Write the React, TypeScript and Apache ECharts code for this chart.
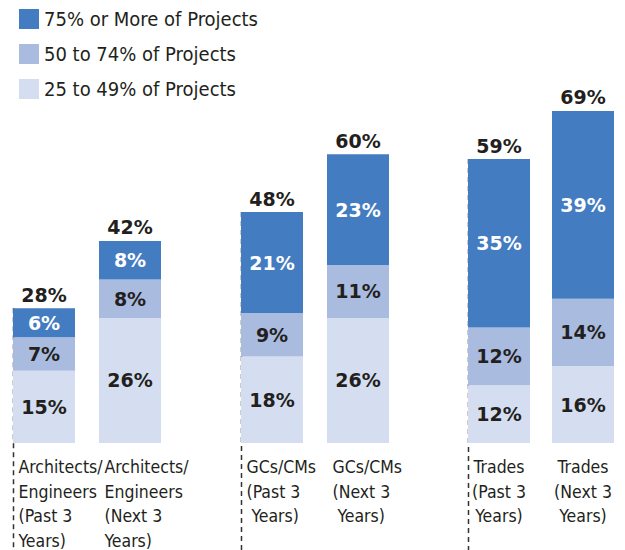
import React, { useEffect, useRef } from "react";
import * as echarts from "echarts";

const categories = [
  "Architects/\nEngineers\n(Past 3\nYears)",
  "Architects/\nEngineers\n(Next 3\nYears)",
  "GCs/CMs\n(Past 3\n Years)",
  "GCs/CMs\n(Next 3\n Years)",
  "Trades\n(Past 3\nYears)",
  "Trades\n(Next 3\nYears)",
];
const seriesNames = ["25 to 49% of Projects", "50 to 74% of Projects", "75% or More of Projects"];
const pct25to49 = [15, 26, 18, 26, 12, 16];
const pct50to74 = [7, 8, 9, 11, 12, 14];
const pct75plus = [6, 8, 21, 23, 35, 39];
const totals = [28, 42, 48, 60, 59, 69];

const COLORS = ["#d5def0", "#aabbe0", "#447cc1"];
const TEXT = "#231f20";
const NARROW = "'DejaVu Sans Condensed', 'Liberation Sans Narrow', sans-serif";
const BOLD = "'DejaVu Sans', sans-serif";

export default function App() {
  const ref = useRef<HTMLDivElement>(null);
  useEffect(() => {
    if (!ref.current) return;
    const chart = echarts.init(ref.current, null, { renderer: "svg" });
    const groups = [
      { left: 1, width: 172, align: "l" },
      { left: 229, width: 172, align: "l" },
      { left: 457, width: 174, align: "c" },
    ];
    const values = [pct25to49, pct50to74, pct75plus];
    const grids: any[] = [];
    const xAxes: any[] = [];
    const yAxes: any[] = [];
    const series: any[] = [];
    groups.forEach((g, gi) => {
      const idx = [gi * 2, gi * 2 + 1];
      grids.push({ left: g.left, width: g.width, top: 58, bottom: 107, containLabel: false });
      xAxes.push({
        type: "category",
        gridIndex: gi,
        data: idx.map((i) => categories[i]),
        axisLine: { show: false },
        axisTick: { show: false },
        axisLabel: {
          interval: 0,
          margin: 12,
          formatter: (v: string) =>
            v
              .split("\n")
              .map((l) => `{${g.align}|${l}}`)
              .join("\n"),
          rich: {
            l: { width: 51, align: "left", fontSize: 17.5, lineHeight: 24.5, fontFamily: NARROW, color: TEXT },
            c: { width: 62, align: "center", fontSize: 17.5, lineHeight: 24.5, fontFamily: NARROW, color: TEXT },
          },
        },
      });
      yAxes.push({ type: "value", gridIndex: gi, min: 0, max: 80, show: false, splitLine: { show: false } });
      values.forEach((arr, si) => {
        series.push({
          type: "bar",
          name: seriesNames[si],
          xAxisIndex: gi,
          yAxisIndex: gi,
          stack: "s" + gi,
          barWidth: 62,
          itemStyle: { color: COLORS[si] },
          label: {
            show: true,
            position: "inside",
            formatter: (p: any) => p.value + "%",
            fontFamily: BOLD,
            fontWeight: "bold",
            fontSize: 19,
            color: si === 2 ? "#ffffff" : TEXT,
          },
          data: idx.map((i) => arr[i]),
        });
      });
      series.push({
        type: "bar",
        name: "total",
        xAxisIndex: gi,
        yAxisIndex: gi,
        stack: "s" + gi,
        barWidth: 62,
        itemStyle: { color: "transparent" },
        label: {
          show: true,
          position: "top",
          distance: 4,
          formatter: (p: any) => totals[idx[p.dataIndex]] + "%",
          fontFamily: BOLD,
          fontWeight: "bold",
          fontSize: 19,
          color: TEXT,
        },
        data: idx.map(() => 0),
      });
    });

    chart.setOption({
      animation: false,
      legend: {
        orient: "vertical",
        left: 14,
        top: 4,
        itemWidth: 20,
        itemHeight: 20,
        itemGap: 15,
        icon: "rect",
        data: [seriesNames[2], seriesNames[1], seriesNames[0]],
        textStyle: { fontFamily: NARROW, fontSize: 20, color: TEXT },
        selectedMode: false,
      },
      grid: grids,
      xAxis: xAxes,
      yAxis: yAxes,
      series,
    });

    const lines: any[] = [];
    [0, 2, 4].forEach((ci, gi) => {
      const p = chart.convertToPixel({ gridIndex: gi } as any, [0, totals[ci]]) as number[];
      const x = Math.round(p[0] - 31) + 0.5;
      lines.push({
        type: "line",
        z: 0,
        shape: { x1: x, y1: p[1], x2: x, y2: 550 },
        style: { stroke: "#333333", lineWidth: 1.5, lineDash: [5, 4] },
      });
    });
    chart.setOption({ graphic: lines });

    return () => chart.dispose();
  }, []);
  return <div ref={ref} style={{ width: 625, height: 550, position: "absolute", left: 0, top: 0 }} />;
}
